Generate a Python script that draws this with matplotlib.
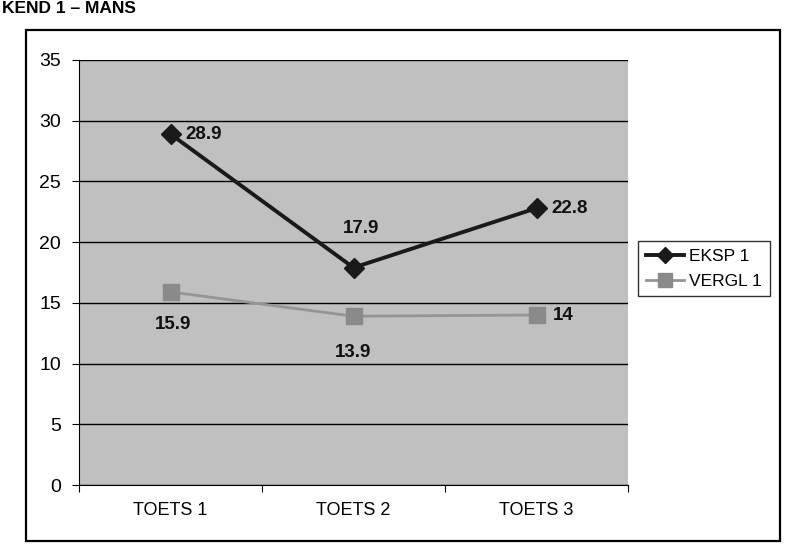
import matplotlib
matplotlib.use("Agg")
import matplotlib.pyplot as plt
from matplotlib.patches import Rectangle

plt.rcParams['font.family'] = ['Liberation Sans', 'DejaVu Sans']

categories = ["TOETS 1", "TOETS 2", "TOETS 3"]
eksp = [28.9, 17.9, 22.8]
vergl = [15.9, 13.9, 14.0]
eksp_labels = ["28.9", "17.9", "22.8"]
vergl_labels = ["15.9", "13.9", "14"]
yticks = [0, 5, 10, 15, 20, 25, 30, 35]

W, H = 787, 551
fig = plt.figure(figsize=(W / 100, H / 100), dpi=100)
fig.patch.set_facecolor("white")

# outer chart frame
fig.patches.append(Rectangle((26 / W, 1 - 541 / H), (780 - 26) / W, (541 - 30) / H,
                             transform=fig.transFigure, fill=False, edgecolor="black",
                             linewidth=1.6, zorder=0))

# page heading above the chart
fig.text(2 / W, 1 - 13 / H, "KEND 1 – MANS", fontsize=12.5, fontweight="bold",
         ha="left", va="baseline")

ax = fig.add_axes([79 / W, 1 - 485 / H, (628 - 79) / W, (485 - 60) / H])
ax.set_facecolor("#c0c0c0")
x = list(range(len(categories)))
ax.set_xlim(-0.5, len(categories) - 0.5)
ax.set_ylim(0, 35)
ax.set_yticks(yticks)
ax.set_yticklabels([str(t) for t in yticks], fontsize=14)
ax.yaxis.grid(True, color="black", linewidth=1.0)
ax.set_axisbelow(True)

ax.set_xticks([i - 0.5 for i in range(len(categories) + 1)])
ax.set_xticklabels([])
ax.set_xticks(x, minor=True)
ax.set_xticklabels(categories, minor=True, fontsize=13)
ax.tick_params(axis="x", which="minor", length=0, pad=12)
ax.tick_params(axis="x", which="major", length=5, direction="out", color="black")
ax.tick_params(axis="y", length=5, direction="out", color="black", pad=8)

for s in ["top", "right"]:
    ax.spines[s].set_visible(False)
ax.spines["left"].set_color("black")
ax.spines["bottom"].set_color("black")

ax.plot(x, eksp, color="#1a1a1a", linewidth=2.8, marker="D", markersize=10,
        label="EKSP 1", zorder=4)
ax.plot(x, vergl, color="#959595", linewidth=2.0, marker="s", markersize=12,
        markerfacecolor="#8a8a8a", markeredgecolor="#8a8a8a", label="VERGL 1", zorder=3)

eksp_off = [(15, 0, "left"), (8, 39, "center"), (15, 0, "left")]
vergl_off = [(3, -33, "center"), (0, -36, "center"), (16, 0, "left")]
for xi, v, lab, (dx, dy, ha) in zip(x, eksp, eksp_labels, eksp_off):
    ax.annotate(lab, (xi, v), xytext=(dx * 0.72, dy * 0.72), textcoords="offset points",
                ha=ha, va="center", fontsize=13.5, fontweight="bold", color="#111111")
for xi, v, lab, (dx, dy, ha) in zip(x, vergl, vergl_labels, vergl_off):
    ax.annotate(lab, (xi, v), xytext=(dx * 0.72, dy * 0.72), textcoords="offset points",
                ha=ha, va="center", fontsize=13.5, fontweight="bold", color="#111111")

leg = fig.legend(loc="upper left", bbox_to_anchor=(638 / W, 1 - 241 / H), fontsize=12.5,
                 frameon=True, fancybox=False, edgecolor="black", handlelength=2.2,
                 borderpad=0.45, labelspacing=0.55, handletextpad=0.3, borderaxespad=0,
                 markerscale=0.8)
leg.get_frame().set_linewidth(1.0)

fig.savefig("out.png", dpi=100, facecolor="white")
